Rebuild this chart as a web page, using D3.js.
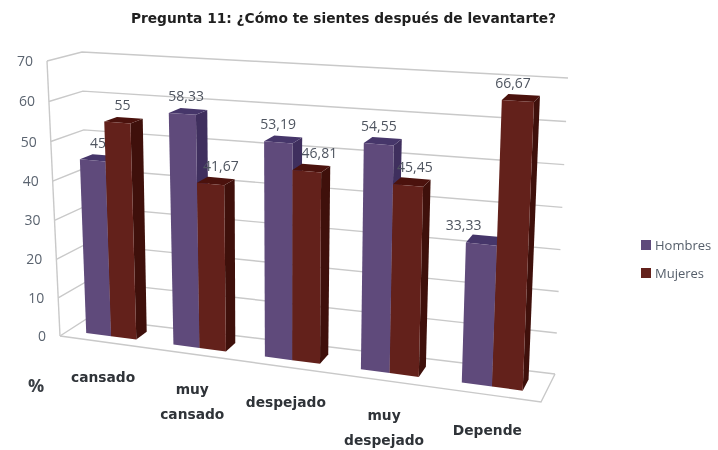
<!DOCTYPE html>
<html><head><meta charset="utf-8">
<script src="https://cdnjs.cloudflare.com/ajax/libs/d3/7.8.5/d3.min.js"></script>
<style>html,body{margin:0;padding:0;background:#fff}svg{display:block;filter:blur(.7px)}text{font-family:"Open Sans",sans-serif}</style>
</head><body><svg id="c" width="718" height="450"></svg>
<script>
const categories=[["cansado"],["muy","cansado"],["despejado"],["muy","despejado"],["Depende"]];
const seriesNames=["Hombres","Mujeres"];
const hombres=[45,58.33,53.19,54.55,33.33];
const mujeres=[55,41.67,46.81,45.45,66.67];
const hombresLabels=["45","58,33","53,19","54,55","33,33"];
const mujeresLabels=["55","41,67","46,81","45,45","66,67"];
const yTicks=[0,10,20,30,40,50,60,70];

const fills=[{front:"#5f4a7b",side:"#3f2f5e",top:"#46366a"},{front:"#63211b",side:"#3f100b",top:"#4b120d"}];
// cube corners on the page: [front/back][left/right][bottom/top]
const C={f:{l:{b:[60,336],t:[47,61]},r:{b:[541,402],t:[554,93]}},
         k:{l:{b:[88,318],t:[82,52]},r:{b:[555,374],t:[568,78]}}};
const lerp=(a,b,t)=>a+(b-a)*t;
const warp=(t,k)=>t/(k+(1-k)*t);
const uScale=d3.scaleBand().domain(d3.range(5)).range([0,1]).paddingInner(.42).paddingOuter(.21);
const sScale=d3.scaleBand().domain([0,1]).range([0,uScale.bandwidth()]);
const vScale=d3.scaleLinear().domain([0,70]).range([0,1]);
function P(t,val,w){
  const u=warp(t,1.13),v=warp(vScale(val),1.035);
  return [0,1].map(i=>{
    const fl=lerp(C.f.l.b[i],C.f.l.t[i],v),fr=lerp(C.f.r.b[i],C.f.r.t[i],v),
          kl=lerp(C.k.l.b[i],C.k.l.t[i],v),kr=lerp(C.k.r.b[i],C.k.r.t[i],v);
    return lerp(lerp(fl,fr,u),lerp(kl,kr,u),w);
  });
}
const svg=d3.select("#c");
const line=d3.line();
const grid=svg.append("g").attr("fill","none").attr("stroke","#c9c9c9").attr("stroke-width",1.4);
yTicks.forEach(v=>{
  grid.append("path").attr("d",line([P(0,v,0),P(0,v,1),P(1,v,1)]));
});
grid.append("path").attr("d",line([P(0,0,0),P(0,70,0)]));
grid.append("path").attr("d",line([P(0,0,0),P(1,0,0),P(1,0,1)]));

const w0=.3,w1=.7;
const poly=pts=>line(pts)+"Z";
const bars=svg.append("g");
const rows=[hombres,mujeres];
categories.forEach((c,i)=>{
  rows.forEach((vals,s)=>{
    const a=uScale(i)+sScale(s),b=a+sScale.bandwidth(),v=vals[i],col=fills[s];
    const g=bars.append("g");
    g.append("path").attr("fill",col.side).attr("d",poly([P(b,0,w0),P(b,0,w1),P(b,v,w1),P(b,v,w0)]));
    g.append("path").attr("fill",col.top).attr("d",poly([P(a,v,w0),P(b,v,w0),P(b,v,w1),P(a,v,w1)]));
    g.append("path").attr("fill",col.front).attr("d",poly([P(a,0,w0),P(b,0,w0),P(b,v,w0),P(a,v,w0)]));
  });
});
// data labels, horizontal nudge for each series/category as placed in the reference
const nudge=[[-1,-2,-5,-4,-21],[-1,5,8,3,-8]];
const labels=svg.append("g").attr("font-size",14).attr("fill","#4f5560").attr("text-anchor","middle");
[hombresLabels,mujeresLabels].forEach((arr,s)=>arr.forEach((t,i)=>{
  const a=uScale(i)+sScale(s)+sScale.bandwidth()/2,p=P(a,rows[s][i],.5);
  labels.append("text").attr("x",p[0]+nudge[s][i]).attr("y",p[1]-10).text(t);
}));
const yl=svg.append("g").attr("font-size",14).attr("fill","#5b6470").attr("text-anchor","end");
yTicks.forEach(v=>{const p=P(0,v,0);
  yl.append("text").attr("x",p[0]-14).attr("y",p[1]+5).text(v);});
const xl=svg.append("g").attr("font-size",13.8).attr("font-weight",700).attr("fill","#2f3338").attr("text-anchor","middle");
categories.forEach((c,i)=>{
  const p=P(uScale(i)+uScale.bandwidth()/2,0,0);
  c.forEach((t,j)=>xl.append("text").attr("style","font-family:'DejaVu Sans'").attr("x",p[0]).attr("y",p[1]+40+j*25).text(t));
});
svg.append("text").attr("x",36).attr("y",392).attr("text-anchor","middle").attr("font-size",18).attr("font-weight",700).attr("fill","#3a3f45").text("%");
svg.append("text").attr("x",343.5).attr("y",23).attr("text-anchor","middle").attr("style","font-family:'DejaVu Sans'").attr("font-size",13.75).attr("font-weight",700).attr("fill","#202020").text("Pregunta 11: ¿Cómo te sientes después de levantarte?");
const leg=svg.append("g");
seriesNames.forEach((n,i)=>{
  const y=245+i*28;
  leg.append("rect").attr("x",641).attr("y",y-5).attr("width",10).attr("height",10).attr("fill",fills[i].front);
  leg.append("text").attr("x",655).attr("y",y+4.5).attr("font-size",13).attr("fill","#555e6a").text(n);
});
</script></body></html>
